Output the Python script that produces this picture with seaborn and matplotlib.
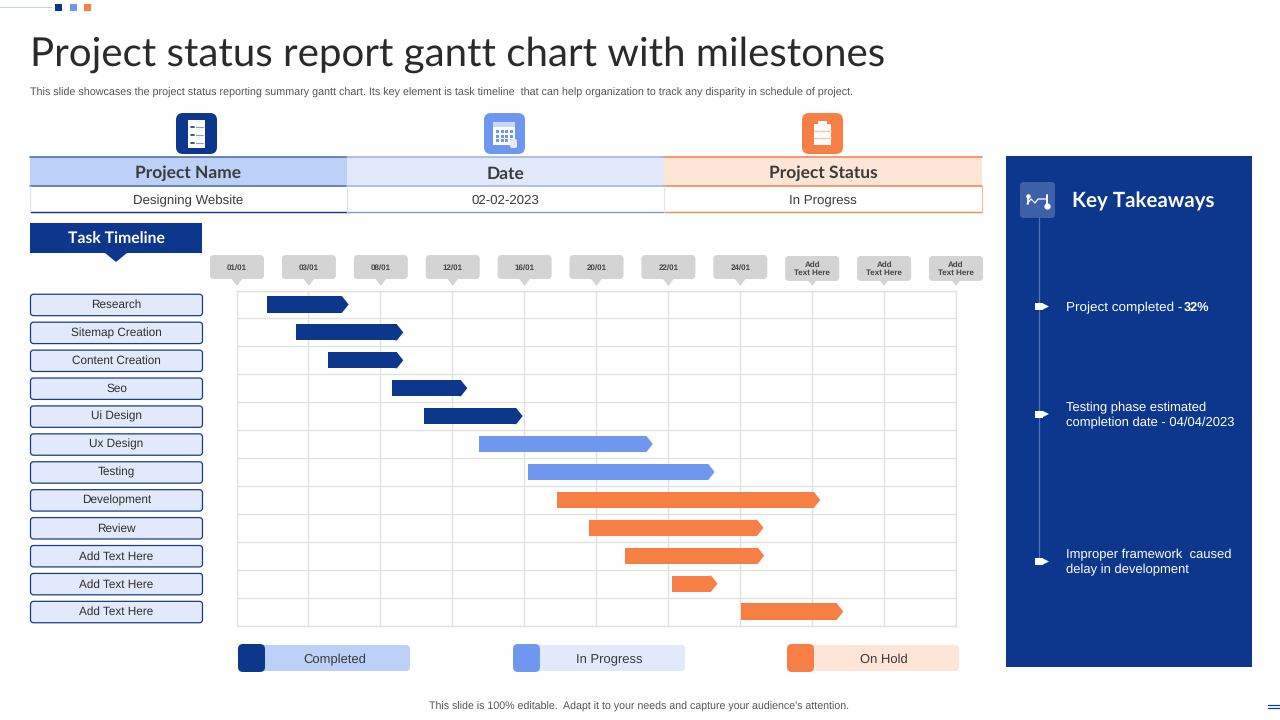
import numpy as np
import matplotlib
matplotlib.use('Agg')
import matplotlib.pyplot as plt
from matplotlib.patches import FancyBboxPatch, Rectangle, Polygon
import seaborn as sns

# chart data
tasks = ['Research', 'Sitemap Creation', 'Content Creation', 'Seo', 'Ui Design', 'Ux Design',
         'Testing', 'Development', 'Review', 'Add Text Here', 'Add Text Here', 'Add Text Here']
starts = [0.43, 0.83, 1.27, 2.16, 2.61, 3.37, 4.05, 4.46, 4.90, 5.41, 6.06, 7.01]
ends = [1.56, 2.32, 2.32, 3.21, 3.98, 5.79, 6.65, 8.12, 7.33, 7.34, 6.69, 8.44]
status = ['Completed'] * 5 + ['In Progress'] * 2 + ['On Hold'] * 5
date_labels = ['01/01', '03/01', '08/01', '12/01', '16/01', '20/01', '22/01', '24/01',
               'Add\nText Here', 'Add\nText Here', 'Add\nText Here']
table_heads = ['Project Name', 'Date', 'Project Status']
table_vals = ['Designing Website', '02-02-2023', 'In Progress']

NAVY = '#0D378C'
BLUE = '#7097F0'
ORANGE = '#F77F45'
colors = {'Completed': NAVY, 'In Progress': BLUE, 'On Hold': ORANGE}
light = {'Completed': '#BDD0F7', 'In Progress': '#E1E9FB', 'On Hold': '#FDE5D8'}
INK = '#3A3A3A'
HEAD = 'Lato'

sns.set_style('white')
plt.rcParams['font.family'] = ['Liberation Sans', 'DejaVu Sans']
# widths then follow the font size evenly
plt.rcParams['text.hinting'] = 'no_hinting'

fig = plt.figure(figsize=(12.8, 7.2), dpi=100)

# whole slide in pixel coordinates, for the boxes around the chart
bg = fig.add_axes([0, 0, 1, 1])
bg.set_xlim(0, 1280)
bg.set_ylim(720, 0)
bg.axis('off')


def box(x0, y0, x1, y1, fc, ec='none', lw=0, r=3, z=2):
    bg.add_patch(FancyBboxPatch((x0 + r, y0 + r), x1 - x0 - 2 * r, y1 - y0 - 2 * r,
                                boxstyle='round,pad=%g,rounding_size=%g' % (r, r),
                                fc=fc, ec=ec, lw=lw, zorder=z))


def rect(x0, y0, x1, y1, fc, z=2):
    bg.add_patch(Rectangle((x0, y0), x1 - x0, y1 - y0, fc=fc, ec='none', zorder=z))


# top left decoration
bg.plot([0, 52], [6.5, 6.5], color='#C4D0EA', lw=0.7)
for x, c in zip([55, 70, 84], [NAVY, BLUE, ORANGE]):
    rect(x, 4, x + 7, 11, c)

# title
bg.text(30, 55, 'Project status report gantt chart with milestones', fontsize=29.0, family=HEAD,
        color='#2A2A2A', va='center', ha='left')
bg.text(30, 92.5, 'This slide showcases the project status reporting summary gantt chart. Its key element '
        'is task timeline  that can help organization to track any disparity in schedule of project.',
        fontsize=7.73, color='#555555', va='center', ha='left')

# table with three icons on top
col_x = [30, 347, 664, 982]
top_line = ['#55749F', '#9DB6EA', '#F08A5A']
low_line = [NAVY, '#7F9BD0', '#F08A5A']
icon_c = [NAVY, BLUE, ORANGE]
heads = [light['Completed'], light['In Progress'], light['On Hold']]
for i in range(3):
    x0, x1 = col_x[i], col_x[i + 1]
    mid = (x0 + x1) / 2
    rect(x0, 157, x1, 186, heads[i])
    bg.plot([x0, x1], [157, 157], color=top_line[i], lw=1.2, zorder=3)
    bg.plot([x0, x1], [186, 186], color=top_line[i], lw=1.2, zorder=3)
    bg.plot([x0, x1], [211.5, 211.5], color=low_line[i], lw=1.0, zorder=3)
    bg.plot([x0, x0], [186, 211.5], color='#DDE3EE', lw=0.8, zorder=3)
    bg.text(mid, 173.5, table_heads[i], fontsize=12.5, family=HEAD, weight='bold', color='#3B3B3B',
            ha='center', va='center', zorder=4)
    bg.text(mid, 200.5, table_vals[i], fontsize=9.5, color=INK, ha='center', va='center', zorder=4)
bg.plot([982, 982], [186, 211.5], color='#F4B89A', lw=0.8, zorder=3)

# icons: rounded tile with a little sheet in it
for cx, c in zip([196.5, 504.5, 822.5], icon_c):
    box(cx - 20.5, 113, cx + 20.5, 154, c, r=7)
cx, y = 196.5, 120
rect(cx - 8.5, y, cx + 8.5, y + 28, 'white', z=3)
for dy in [8, 16, 24]:
    bg.plot([cx - 6, cx - 3], [y + dy - 1, y + dy - 1], color=NAVY, lw=1.2, zorder=4)
    bg.plot([cx - 1, cx + 6], [y + dy - 1, y + dy - 1], color='#8B9CC2', lw=0.8, zorder=4)
rect(493, 122, 515, 145, 'white', z=3)
rect(493, 122, 515, 127, '#C9D8F8', z=4)
for gx in range(4):
    for gy in range(3):
        rect(496 + gx * 4.5, 130 + gy * 4.5, 499 + gx * 4.5, 133 + gy * 4.5, BLUE, z=4)
box(510, 139, 517, 148, '#E3EAFB', r=2, z=5)
rect(814, 124, 831, 145, 'white', z=3)
rect(818, 121, 827, 125, 'white', z=3)
for dy in [131, 138]:
    bg.plot([814, 831], [dy, dy], color='#F9C6AC', lw=0.9, zorder=4)

# task timeline tab
rect(30, 223, 202, 253, NAVY)
bg.add_patch(Polygon([[105, 253], [127, 253], [116, 262]], fc=NAVY, ec='none', zorder=2))
bg.text(116, 239, 'Task Timeline', fontsize=11.3, family=HEAD, weight='bold', color='white',
        ha='center', va='center', zorder=3)

# task names
row_h = 335 / 12
for i, name in enumerate(tasks):
    cy = 291 + row_h * (i + 0.5)
    box(30.5, cy - 10.7, 202.5, cy + 10.7, light['In Progress'], ec='#1A3F80', lw=0.9, r=3)
    bg.text(116.5, cy + 0.2, name, fontsize=8.5, color='#2E2E2E', ha='center', va='center', zorder=3)

# date callouts above the grid
col_w = 719 / 10
for i, lab in enumerate(date_labels):
    cx = 237 + col_w * i
    two = '\n' in lab
    box(cx - 27, 256 if two else 255, cx + 27, 281 if two else 279, '#D4D4D4', r=4)
    bg.add_patch(Polygon([[cx - 6, 278], [cx + 6, 278], [cx, 286]], fc='#D4D4D4', ec='none', zorder=2))
    bg.text(cx, 269 if two else 267.5, lab, fontsize=5.8, color='#444444', weight='bold', ha='center',
            va='center', linespacing=1.1, zorder=3)

# gantt
ax = fig.add_axes([236.5 / 1280, 1 - 625.5 / 720, 719 / 1280, 335 / 720])
ax.patch.set_alpha(0)
head = 0.09
for i in range(len(tasks)):
    c = colors[status[i]]
    sns.barplot(x=[ends[i] - head - starts[i]], y=[i], left=starts[i], orient='y', native_scale=True,
                color=c, saturation=1, width=0.58, linewidth=0, ax=ax, zorder=3)
    # pointed end, overlapping the bar a little so no seam shows
    ax.fill([ends[i] - head - 0.02, ends[i] - head, ends[i], ends[i] - head, ends[i] - head - 0.02],
            [i - 0.29, i - 0.29, i, i + 0.29, i + 0.29], color=c, lw=0, zorder=3)
ax.set_xlim(0, 10)
ax.set_ylim(len(tasks) - 0.5, -0.5)
ax.set_xticks(np.arange(0, 11))
ax.set_yticks(np.arange(-0.5, len(tasks)))
ax.set_xticklabels([])
ax.set_yticklabels([])
ax.set_xlabel('')
ax.set_ylabel('')
ax.grid(True, color='#E2E2E2', lw=1.0)
ax.set_axisbelow(True)
ax.tick_params(length=0)
for s in ax.spines.values():
    s.set_color('#E2E2E2')
    s.set_linewidth(1.0)

# legend
for x, name in zip([238, 513, 787], ['Completed', 'In Progress', 'On Hold']):
    box(x, 645, x + 172, 671, light[name], r=4)
    box(x, 644, x + 27, 672, colors[name], r=5, z=3)
    bg.text(x + 96.5, 659.5, name, fontsize=9.4, color=INK, ha='center', va='center', zorder=4)

# key takeaways panel
rect(1006, 156, 1252, 667, NAVY)
bg.plot([1038.5, 1038.5], [218, 562], color='#4F72B8', lw=0.9, zorder=3)
box(1020, 182, 1055, 218, '#3D60A8', r=4, z=3)
bg.plot([1027, 1031, 1035, 1038, 1042, 1047], [204, 199, 203, 199, 199, 199], color='white', lw=0.9, zorder=4)
bg.plot([1047, 1047], [195, 206], color='white', lw=1.4, zorder=4)
bg.plot([1047], [206], 'o', color='white', ms=3.5, zorder=4)
bg.plot([1027.5], [195.5], 'o', color='white', ms=2.2, zorder=4)
bg.plot([1027.5, 1027.5], [197, 204], color='white', lw=1.2, zorder=4)
bg.text(1072, 201.5, 'Key Takeaways', fontsize=14.8, family=HEAD, weight='bold', color='white',
        ha='left', va='center', zorder=4)

for y in [306.5, 414, 561.5]:
    rect(1035, y - 3.5, 1043, y + 3.5, 'white', z=4)
    bg.add_patch(Polygon([[1043, y - 3], [1049, y], [1043, y + 3]], fc='white', ec='none', zorder=4))
bg.text(1066, 307.5, 'Project completed -', fontsize=9.7, color='white', ha='left', va='center', zorder=4)
bg.text(1184, 307.5, '32%', fontsize=9.2, weight='bold', color='white', ha='left', va='center', zorder=4)
bg.text(1066, 415.5, 'Testing phase estimated\ncompletion date - 04/04/2023', fontsize=9.35, color='white',
        ha='left', va='center', linespacing=1.33, zorder=4)
bg.text(1066, 562.5, 'Improper framework  caused\ndelay in development', fontsize=9.35, color='white',
        ha='left', va='center', linespacing=1.33, zorder=4)

# footer
bg.text(639.5, 707, "This slide is 100% editable.  Adapt it to your needs and capture your audience's attention.",
        fontsize=7.66, color='#555555', ha='center', va='center')
bg.plot([1268, 1280], [704.5, 704.5], color='#1A3F80', lw=0.9)
bg.plot([1268, 1280], [708, 708], color='#1A3F80', lw=0.9)

fig.savefig('out.png', dpi=100)
